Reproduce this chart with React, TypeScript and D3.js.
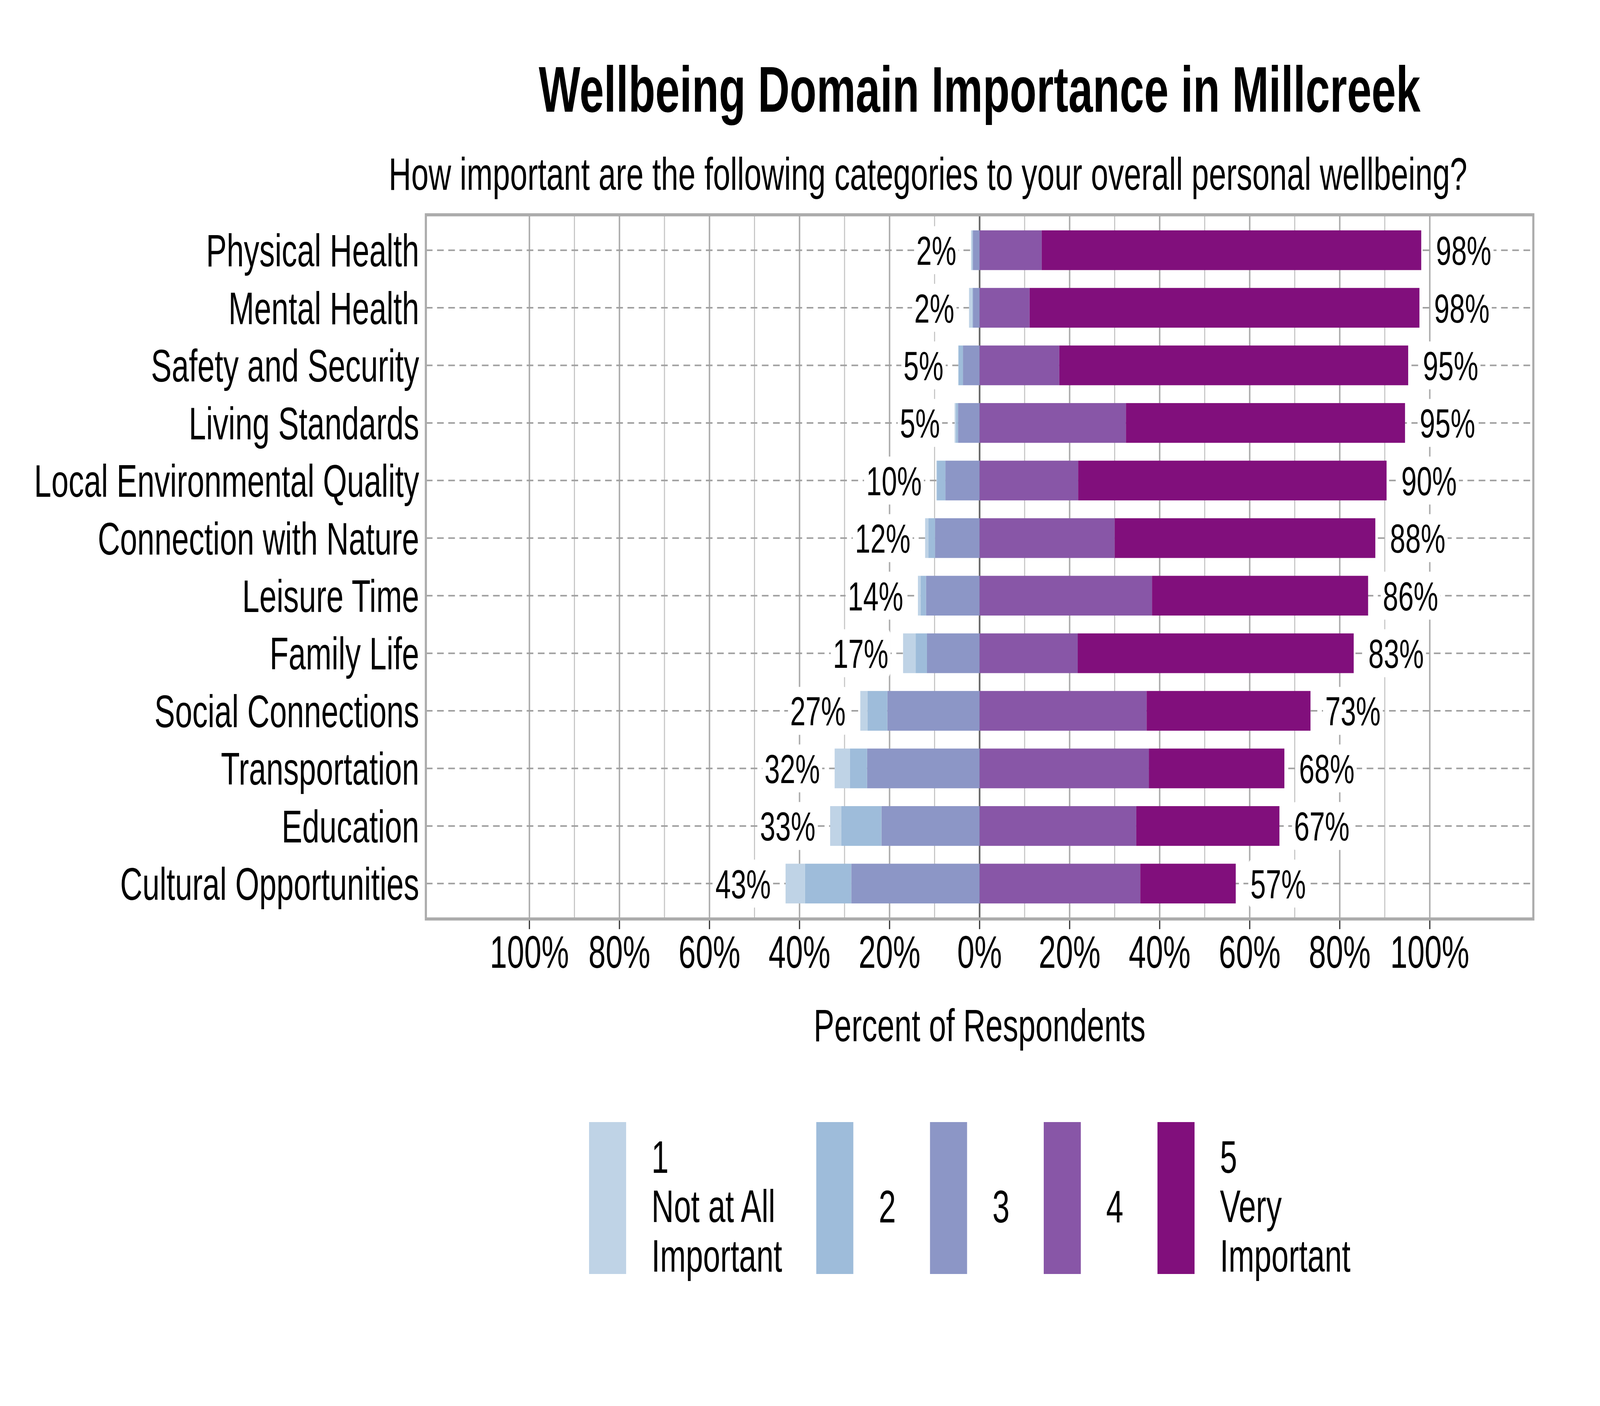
import React, { FC, useMemo } from 'react'
import * as d3 from 'd3'

// values, percent of respondents
const categories = [
	'Physical Health',
	'Mental Health',
	'Safety and Security',
	'Living Standards',
	'Local Environmental Quality',
	'Connection with Nature',
	'Leisure Time',
	'Family Life',
	'Social Connections',
	'Transportation',
	'Education',
	'Cultural Opportunities'
]
const notAtAll = [0.25, 0.7, 0.05, 0.3, 0.1, 0.7, 0.6, 2.8, 1.6, 3.4, 2.5, 4.3]
const two = [0.15, 0.15, 1.0, 0.45, 1.9, 1.5, 1.2, 2.5, 4.4, 3.8, 8.9, 10.3]
const three = [1.5, 1.5, 3.7, 4.8, 7.6, 9.9, 11.9, 11.7, 20.5, 25.0, 21.8, 28.5]
const four = [13.8, 11.1, 17.7, 32.5, 21.9, 30.0, 38.3, 21.8, 37.1, 37.6, 34.8, 35.7]
const five = [84.3, 86.6, 77.5, 62.0, 68.5, 57.9, 48.0, 61.3, 36.4, 30.1, 31.8, 21.2]
const lowLabels = ['2%', '2%', '5%', '5%', '10%', '12%', '14%', '17%', '27%', '32%', '33%', '43%']
const highLabels = ['98%', '98%', '95%', '95%', '90%', '88%', '86%', '83%', '73%', '68%', '67%', '57%']
const tickValues = [-100, -80, -60, -40, -20, 0, 20, 40, 60, 80, 100]
const legendLabels = [
	['1', 'Not at All', 'Important'],
	['2'],
	['3'],
	['4'],
	['5', 'Very', 'Important']
]

const keys = ['three', 'two', 'one', 'four', 'five']
const colors: Record<string, string> = {
	one: '#bfd3e6',
	two: '#9ebcda',
	three: '#8c96c6',
	four: '#8856a7',
	five: '#810f7c'
}
const legendKeys = ['one', 'two', 'three', 'four', 'five']

// drawing space of the reference picture; the svg is stretched to the window
const W = 6000
const H = 3600
const FONT = '"Liberation Sans", Arial, Helvetica, sans-serif'
const frame = { left: 1597, right: 5750, top: 550, bottom: 2353 }

let ctx: CanvasRenderingContext2D | null = null
const textWidth = (t: string, size: number) => {
	if (!ctx) ctx = document.createElement('canvas').getContext('2d')
	if (!ctx) return t.length * size * 0.55
	ctx.font = `${size}px ${FONT}`
	return ctx.measureText(t).width
}

const App: FC = () => {
	const x = d3.scaleLinear().domain([-123, 123]).range([frame.left, frame.right])
	const y = d3
		.scaleBand<string>()
		.domain(categories)
		.range([frame.top, frame.bottom])
		.paddingInner(0.31)
		.paddingOuter(0.27)

	const series = useMemo(() => {
		const rows = categories.map((c, i) => ({
			category: c,
			one: -notAtAll[i],
			two: -two[i],
			three: -three[i],
			four: four[i],
			five: five[i]
		}))
		return d3
			.stack<any>()
			.keys(keys)
			.offset(d3.stackOffsetDiverging)(rows)
	}, [])

	const labelSize = 104
	const labelGap = 55
	const gridTicks = d3.range(-100, 101, 10)

	// legend layout from text widths
	let lx = 2209
	const legendItems = legendLabels.map((lines, i) => {
		const w = d3.max(lines, (l) => textWidth(l, 116)) || 0
		const item = { x: lx, lines, key: legendKeys[i] }
		lx += 139 + 95 + w + 128
		return item
	})

	const bw = y.bandwidth()

	return (
		<svg
			viewBox={`0 0 ${W} ${H}`}
			preserveAspectRatio="none"
			style={{
				position: 'fixed',
				left: 0,
				top: 0,
				width: '100vw',
				height: '100vh',
				background: '#fff'
			}}
			fontFamily={FONT}
		>
			<rect width={W} height={H} fill="#fff" />
			{/* 标题 */}
			<text x={x(0)} y={286} textAnchor="middle" fontSize={165} fontWeight="bold">
				Wellbeing Domain Importance in Millcreek
			</text>
			<text x={3480} y={486} textAnchor="middle" fontSize={117}>
				How important are the following categories to your overall personal wellbeing?
			</text>

			{/* 网格 */}
			<g>
				{gridTicks.map((t) => (
					<line
						key={t}
						x1={x(t)}
						x2={x(t)}
						y1={frame.top}
						y2={frame.bottom}
						stroke={t % 20 === 0 ? '#acacac' : '#c4c4c4'}
						strokeWidth={t % 20 === 0 ? 5.5 : 4}
					/>
				))}
				{categories.map((c) => (
					<line
						key={c}
						x1={frame.left}
						x2={frame.right}
						y1={(y(c) || 0) + bw / 2}
						y2={(y(c) || 0) + bw / 2}
						stroke="#a0a0a0"
						strokeWidth={4}
						strokeDasharray="25 17"
					/>
				))}
				<line x1={x(0)} x2={x(0)} y1={frame.top} y2={frame.bottom} stroke="#666" strokeWidth={6} />
			</g>

			{/* 主图 */}
			<g>
				{series.map((s) => (
					<g key={s.key} fill={colors[s.key]}>
						{s.map((d, i) => (
							<rect
								key={i}
								x={x(Math.min(d[0], d[1]))}
								width={Math.abs(x(d[1]) - x(d[0]))}
								y={y(categories[i])}
								height={bw}
							/>
						))}
					</g>
				))}
			</g>

			{/* 文字 */}
			<g fontSize={labelSize}>
				{categories.map((c, i) => {
					const cy = (y(c) || 0) + bw / 2
					const lowX = x(-(notAtAll[i] + two[i] + three[i])) - labelGap
					const highX = x(four[i] + five[i]) + labelGap
					const lw = textWidth(lowLabels[i], labelSize)
					const hw = textWidth(highLabels[i], labelSize)
					const bh = labelSize * 1.18
					return (
						<g key={c}>
							<rect x={lowX - lw - 8} y={cy - bh / 2} width={lw + 16} height={bh} rx={14} fill="#fff" />
							<text x={lowX} y={cy} dy="0.36em" textAnchor="end">
								{lowLabels[i]}
							</text>
							<rect x={highX - 8} y={cy - bh / 2} width={hw + 16} height={bh} rx={14} fill="#fff" />
							<text x={highX} y={cy} dy="0.36em">
								{highLabels[i]}
							</text>
						</g>
					)
				})}
			</g>

			{/* 坐标轴 */}
			<rect
				x={frame.left}
				y={frame.top}
				width={frame.right - frame.left}
				height={frame.bottom - frame.top}
				fill="none"
				stroke="#acacac"
				strokeWidth={8}
			/>
			<g fontSize={116}>
				{categories.map((c) => (
					<text key={c} x={1572} y={(y(c) || 0) + bw / 2} dy="0.36em" textAnchor="end">
						{c}
					</text>
				))}
			</g>
			<g fontSize={116}>
				{tickValues.map((t) => (
					<g key={t}>
						<line x1={x(t)} x2={x(t)} y1={frame.bottom + 4} y2={frame.bottom + 26} stroke="#333" strokeWidth={4.5} />
						<text x={x(t)} y={2478} textAnchor="middle">
							{`${Math.abs(t)}%`}
						</text>
					</g>
				))}
				<text x={x(0)} y={2666} textAnchor="middle">
					Percent of Respondents
				</text>
			</g>

			{/* 图例 */}
			<g fontSize={116}>
				{legendItems.map((it) => (
					<g key={it.key}>
						<rect x={it.x} y={2873} width={139} height={389} fill={colors[it.key]} />
						{it.lines.map((l, j) => (
							<text
								key={j}
								x={it.x + 234}
								y={it.lines.length === 1 ? 3130 : 3003 + j * 126.5}
							>
								{l}
							</text>
						))}
					</g>
				))}
			</g>
		</svg>
	)
}

export default App
